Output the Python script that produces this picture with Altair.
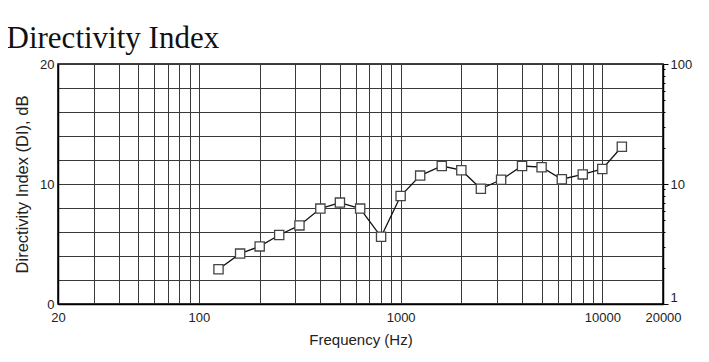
import altair as alt
import pandas as pd

freq = [125, 160, 200, 250, 315, 400, 500, 630, 800, 1000, 1250, 1600, 2000,
        2500, 3150, 4000, 5000, 6300, 8000, 10000, 12500]
di = [2.9, 4.2, 4.8, 5.75, 6.55, 7.95, 8.45, 7.95, 5.6, 9.0, 10.7, 11.5, 11.15,
      9.6, 10.35, 11.5, 11.4, 10.4, 10.8, 11.25, 13.1]

x_grid = [20, 30, 40, 50, 60, 70, 80, 90, 100, 200, 300, 400, 500, 600, 700, 800, 900,
          1000, 2000, 3000, 4000, 5000, 6000, 7000, 8000, 9000, 10000, 20000]
x_labels = [20, 100, 1000, 10000, 20000]
y_grid = [0, 2, 4, 6, 8, 10, 12, 14, 16, 18, 20]
y_labels = [0, 10, 20]
q_ticks = [1, 2, 3, 4, 5, 6, 7, 8, 9, 10, 20, 30, 40, 50, 60, 70, 80, 90, 100]
q_labels = [1, 10, 100]

df = pd.DataFrame({"freq": freq, "di": di})

def label_expr(vals):
    return " || ".join(f"datum.value == {v}" for v in vals)

lab_font = "Liberation Sans"

base = alt.Chart(df).encode(
    x=alt.X("freq:Q",
            scale=alt.Scale(type="log", domain=[20, 20000], nice=False),
            axis=alt.Axis(values=x_grid, format="d",
                          labelExpr=f"({label_expr(x_labels)}) ? datum.label : ''",
                          title="Frequency (Hz)", ticks=False, grid=True,
                          gridColor="#3a3a3a", gridWidth=1, domainColor="black", domainWidth=1.5,
                          labelFont=lab_font, labelFontSize=13, labelColor="#222",
                          labelPadding=7, labelOverlap=False, labelFlush=False,
                          titleFont=lab_font, titleFontSize=15, titleFontWeight="normal",
                          titleColor="#222", titlePadding=8)),
    y=alt.Y("di:Q",
            scale=alt.Scale(domain=[0, 20], nice=False),
            axis=alt.Axis(values=y_grid, format="d",
                          labelExpr=f"({label_expr(y_labels)}) ? datum.label : ''",
                          title="Directivity Index (DI), dB", ticks=False, grid=True,
                          gridColor="#3a3a3a", gridWidth=1, domainColor="black", domainWidth=1.5,
                          labelFont=lab_font, labelFontSize=13, labelColor="#222",
                          labelPadding=4, labelOverlap=False,
                          titleFont=lab_font, titleFontSize=16.5, titleFontWeight="normal",
                          titleColor="#222", titlePadding=9)),
)

line = base.mark_line(color="#111", strokeWidth=1.3)
pts = base.mark_point(shape="square", filled=True, fill="white", stroke="#444",
                      strokeWidth=1.3, size=85, opacity=1)

major_q = label_expr(q_labels)
right = alt.Chart(pd.DataFrame({"q": [1, 100]})).mark_point(opacity=0).encode(
    y=alt.Y("q:Q",
            scale=alt.Scale(type="log", domain=[1, 100], nice=False),
            axis=alt.Axis(orient="right", values=q_ticks, format="d",
                          labelExpr=f"({major_q}) ? datum.label : ''",
                          title=None, grid=False,
                          tickSize=alt.ExprRef(expr=f"({major_q}) ? 5 : 2"),
                          tickColor="black",
                          domainColor="black", domainWidth=1.5,
                          labelBaseline=alt.ExprRef(expr="datum.value == 1 ? 'bottom' : 'middle'"),
                          labelFont=lab_font, labelFontSize=13, labelColor="#222",
                          labelPadding=2, labelOverlap=False, labelFlush=False))
)

chart = alt.layer(alt.layer(line, pts), right).resolve_scale(y="independent").properties(
    width=605, height=240,
    autosize=alt.AutoSizeParams(type="none"),
    padding={"left": 50, "top": 56, "right": 38, "bottom": 50},
    title=alt.TitleParams("Directivity Index", font="Liberation Serif", fontSize=31,
                          fontWeight="normal", color="#111", anchor="start", offset=3, dx=-8),
).configure_view(stroke="black", strokeWidth=1.5)

chart.save("out.html", embed_options={"renderer": "svg", "actions": False})
